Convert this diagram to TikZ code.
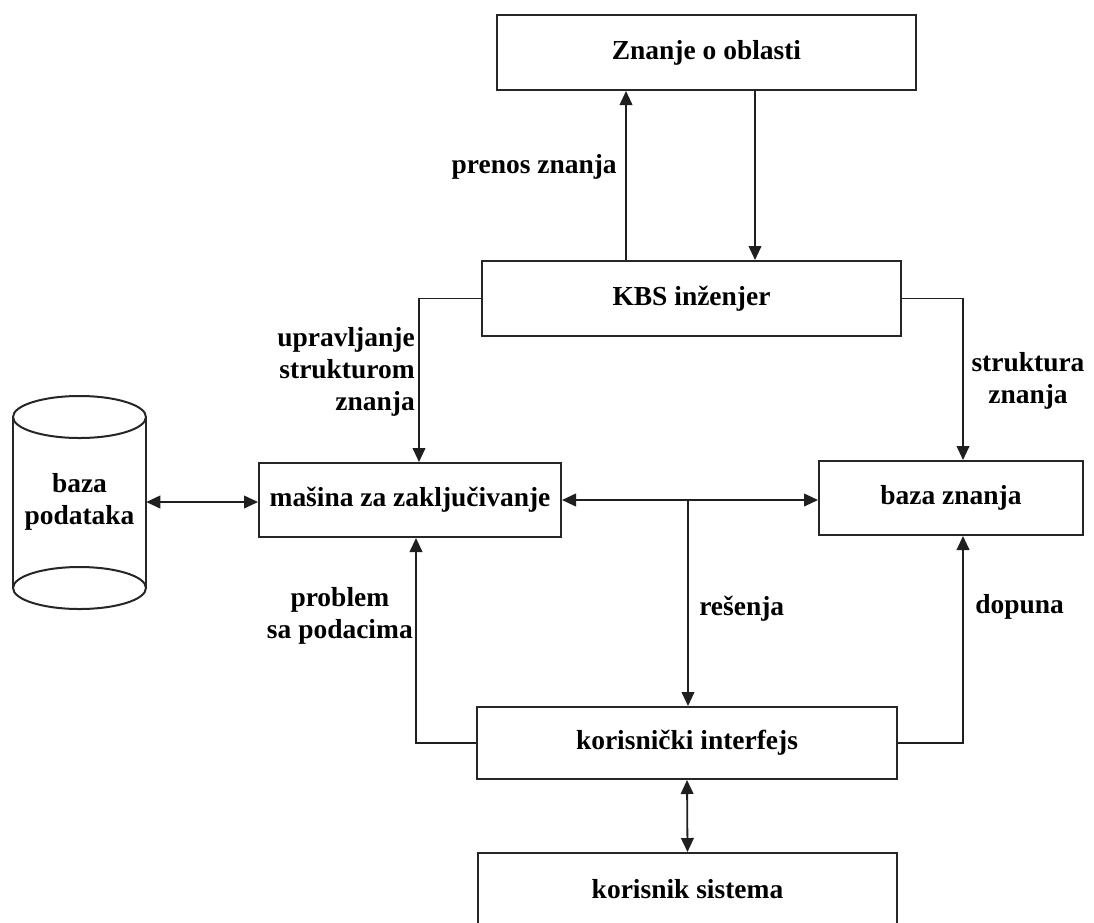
\documentclass[tikz,border=0pt]{standalone}
\usepackage{fontspec}
\setmainfont{Liberation Serif}
\usetikzlibrary{arrows.meta}
\begin{document}
\begin{tikzpicture}[x=0.75pt,y=-0.75pt,
  every node/.style={font=\fontsize{20.6}{24}\selectfont\bfseries, inner sep=0pt},
  box/.style 2 args={draw=black!85, line width=1.5pt, minimum width=#1*0.75pt, minimum height=#2*0.75pt},
  link/.style={draw=black!88, line width=1.35pt, -{Triangle[length=10.5pt,width=9.5pt]}},
  dlink/.style={draw=black!88, line width=1.35pt, {Triangle[length=10.5pt,width=9.5pt]}-{Triangle[length=10.5pt,width=9.5pt]}},
  lbl/.style={align=center}]
  % page frame
  \fill[white] (0,0) rectangle (1094,922);
  \useasboundingbox (0,0) rectangle (1094,922);

  % boxes
  \node[box={419}{75}] (zn)   at (706.5,52.5) {Znanje o oblasti};
  \node[box={419}{75}] (kbs)  at (691.5,298.5) {KBS inženjer};
  \node[box={302}{74}] (mas)  at (410,500) {mašina za zaključivanje};
  \node[box={264}{74}] (bz)   at (951,498) {baza znanja};
  \node[box={420}{72}] (kor)  at (687,743) {korisnički interfejs};
  \node[box={419}{72}] (kors) at (687.5,889) {korisnik sistema};

  % database cylinder
  \node[lbl, minimum width=133*0.75pt, minimum height=214*0.75pt] (db) at (79.5,502) {baza\\podataka};
  \draw[draw=black!85, line width=1.5pt] (13,417) -- (13,588) (146,417) -- (146,588);
  \draw[draw=black!85, line width=1.5pt, fill=white] (79.5,417) ellipse [x radius=66.5, y radius=21];
  \draw[draw=black!85, line width=1.5pt] (79.5,588) ellipse [x radius=66.5, y radius=21];

  % connector columns
  \coordinate (xa) at (626,0);
  \coordinate (xb) at (755,0);
  \coordinate (xc) at (419,0);
  \coordinate (xd) at (963,0);
  \coordinate (xe) at (416,0);
  \coordinate (xr) at (688,0);

  % connectors
  \draw[link] (kbs.north -| xa) -- (zn.south -| xa);
  \draw[link] (zn.south -| xb) -- (kbs.north -| xb);
  \draw[link] (kbs.west) -| (mas.north -| xc);
  \draw[link] (kbs.east) -| (bz.north -| xd);
  \draw[dlink] (db.east) -- (db.east -| mas.west);
  \draw[dlink] (mas.east) -- (mas.east -| bz.west);
  \coordinate (j) at (mas.east -| xr);
  \draw[link] (j) -- (kor.north -| xr);
  \draw[link] (kor.west) -| (mas.south -| xe);
  \draw[link] (kor.east) -| (bz.south -| xd);
  \draw[dlink] (kor.south) -- (kors.north);

  % labels
  \node[anchor=east] (l1) at (617,167) {prenos znanja};
  \node[align=right, anchor=east] (l2) at (415,372) {upravljanje\\strukturom\\znanja};
  \node[lbl] (l3) at (1028,381) {struktura\\znanja};
  \node[lbl, anchor=east] (l4) at (413,616) {problem\\sa podacima};
  \node[anchor=west] (l5) at (699,609) {rešenja};
  \node[anchor=west] (l6) at (975,607) {dopuna};
\end{tikzpicture}
\end{document}
